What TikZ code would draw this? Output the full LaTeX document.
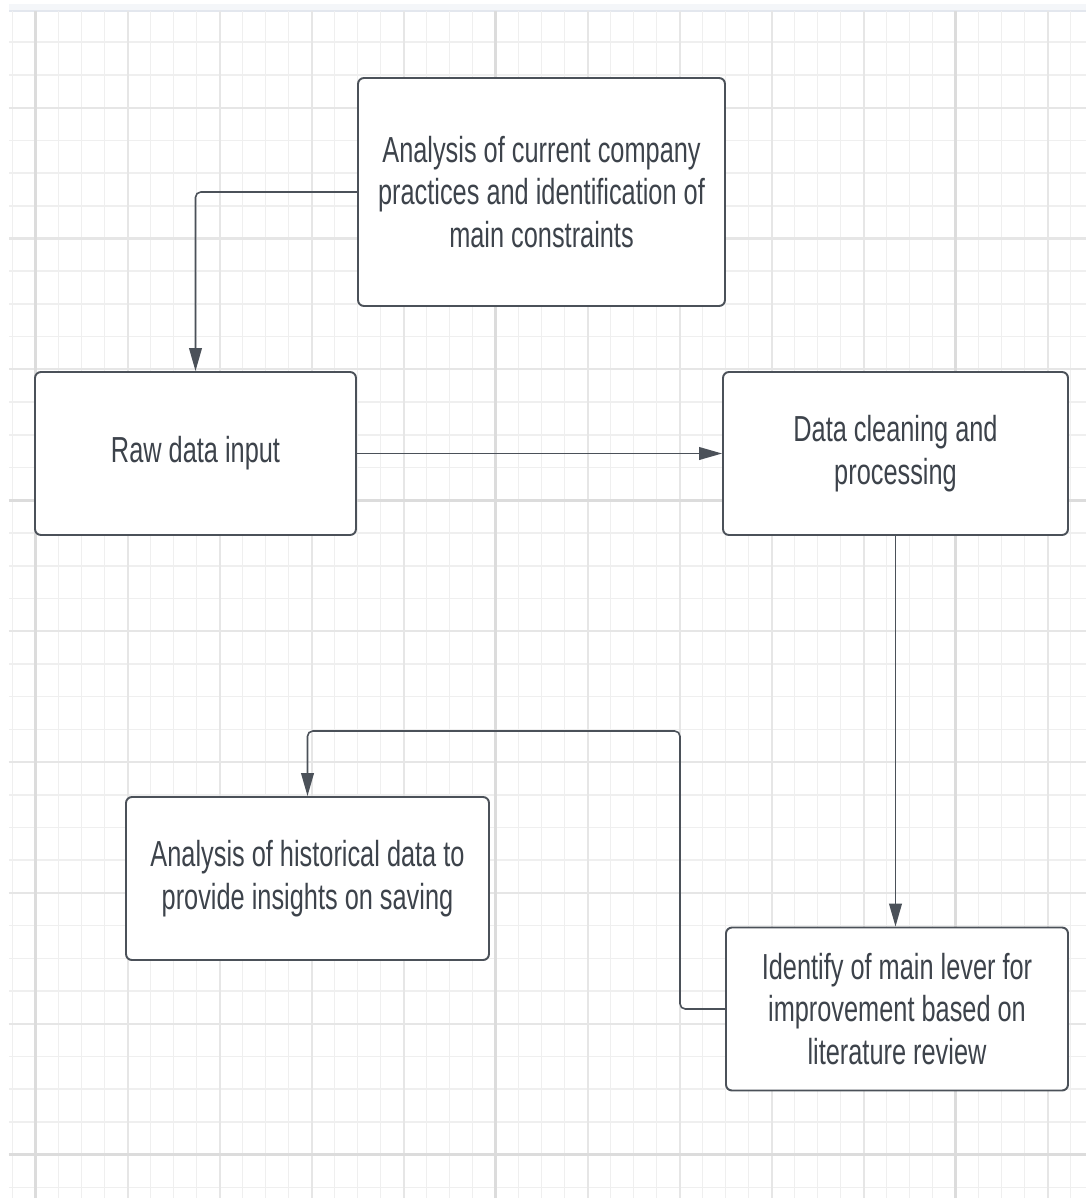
\documentclass[tikz,border=0pt]{standalone}
\usepackage{fontspec}
\setmainfont{Liberation Sans}[FakeStretch=0.70]
\usetikzlibrary{arrows.meta,positioning}
\definecolor{ink}{HTML}{3D434B}
\definecolor{frame}{HTML}{4B5159}
\definecolor{gridFine}{HTML}{EFEFEF}
\definecolor{gridMid}{HTML}{E6E6E6}
\definecolor{gridMajor}{HTML}{DCDCDC}
\definecolor{band}{HTML}{F4F6F9}
\definecolor{bandLine}{HTML}{E3E7EE}

\begin{document}
\begin{tikzpicture}[font=\fontsize{10.3}{12.2}\selectfont,
  stepbox/.style={draw=frame,line width=0.55pt,fill=white,rounded corners=1.7pt,
    text=ink,align=center,inner sep=0pt},
  conn/.style={draw=frame,line width=0.45pt,rounded corners=1.5pt,
    -{Triangle[length=6.5pt,width=3.6pt]}},
  gridfine/.style={gridFine,line width=0.45pt},
  gridmid/.style={gridMid,line width=0.6pt},
  gridmajor/.style={gridMajor,line width=0.9pt}]
  \useasboundingbox (0,0) rectangle (10.86,-11.98);
  % background grid
  \fill[band] (0.09,-0.04) rectangle (10.86,-0.11);
  \draw[bandLine,line width=0.5pt] (0.09,-0.11) -- (10.86,-0.11);
  \foreach \k in {-1,...,45}
    \draw[gridfine] ({0.357+0.23*\k},-0.11) -- ({0.357+0.23*\k},-11.98);
  \foreach \j in {-14,...,21}
    \draw[gridfine] (0.09,{-5.003-0.3272*\j}) -- (10.86,{-5.003-0.3272*\j});
  \foreach \k in {0,4,...,44}
    \draw[gridmid] ({0.357+0.23*\k},-0.11) -- ({0.357+0.23*\k},-11.98);
  \foreach \j in {-12,-8,...,20}
    \draw[gridmid] (0.09,{-5.003-0.3272*\j}) -- (10.86,{-5.003-0.3272*\j});
  \foreach \k in {0,20,40}
    \draw[gridmajor] ({0.357+0.23*\k},-0.11) -- ({0.357+0.23*\k},-11.98);
  \foreach \j in {0,20}
    \draw[gridmajor] (0.09,{-5.003-0.3272*\j}) -- (10.86,{-5.003-0.3272*\j});

  % steps
  \node[stepbox,minimum width=3.67cm,minimum height=2.28cm] (ana) at (5.415,-1.92)
    {Analysis of current company\\practices and identification of\\main constraints};
  \node[stepbox,minimum width=3.21cm,minimum height=1.63cm] (raw) at (1.955,-4.535)
    {Raw data input};
  \node[stepbox,minimum width=3.45cm,minimum height=1.63cm] (clean) at (8.955,-4.535)
    {Data cleaning and\\processing};
  \node[stepbox,minimum width=3.63cm,minimum height=1.63cm] (hist) at (3.075,-8.785)
    {Analysis of historical data to\\provide insights on saving};
  \node[stepbox,minimum width=3.42cm,minimum height=1.63cm] (lever) at (8.97,-10.09)
    {Identify of main lever for\\improvement based on\\literature review};
  \coordinate (turn) at (6.80,-7.31);

  % connectors
  \draw[conn] (ana.west) -| (raw.north);
  \draw[conn] (raw.east) -- (clean.west);
  \draw[conn] (clean.south) -- (clean.south |- lever.north);
  \draw[conn] (lever.west) -| (turn) -| (hist.north);
\end{tikzpicture}
\end{document}
